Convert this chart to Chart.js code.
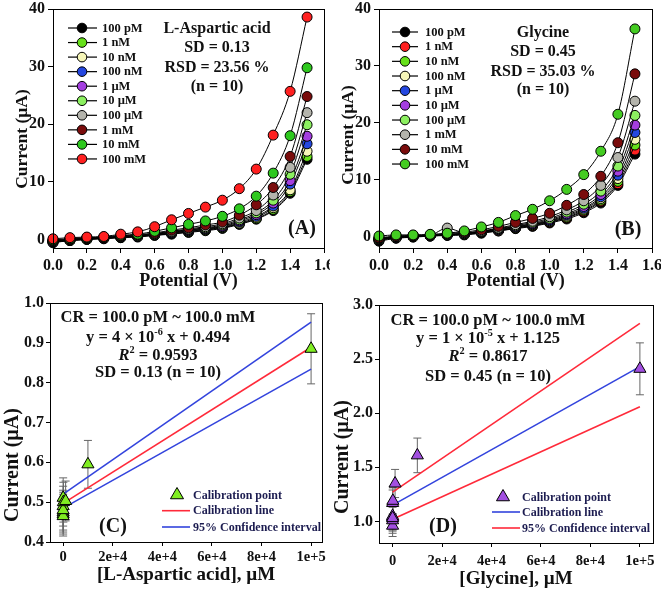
<!DOCTYPE html>
<html><head><meta charset="utf-8">
<script src="https://cdn.jsdelivr.net/npm/chart.js@4/dist/chart.umd.min.js"></script>
<style>
html,body{margin:0;padding:0;background:#fff;width:661px;height:591px;overflow:hidden}
canvas{position:absolute;display:block}
</style></head><body>
<canvas id="cA" width="330" height="295" style="left:0;top:0"></canvas>
<canvas id="cB" width="331" height="295" style="left:330px;top:0"></canvas>
<canvas id="cC" width="330" height="296" style="left:0;top:295px"></canvas>
<canvas id="cD" width="331" height="296" style="left:330px;top:295px"></canvas>
<script>
// ---------------- DATA ----------------
const potentials = [0.0,0.1,0.2,0.3,0.4,0.5,0.6,0.7,0.8,0.9,1.0,1.1,1.2,1.3,1.4,1.5];
const concLabels = ['100 pM','1 nM','10 nM','100 nM','1 \u00b5M','10 \u00b5M','100 \u00b5M','1 mM','10 mM','100 mM'];

// (A) L-Aspartic acid currents (µA)
const asp_100pM = [-0.6,-0.2,0.0,0.1,0.3,0.4,0.7,0.9,1.2,1.5,1.9,2.6,3.5,5.0,8.0,13.9];
const asp_1nM   = [-0.5,-0.2,0.0,0.2,0.3,0.5,0.7,1.0,1.3,1.6,2.0,2.7,3.6,5.2,8.3,14.4];
const asp_10nM  = [-0.4,-0.2,0.0,0.2,0.4,0.5,0.8,1.1,1.4,1.7,2.1,2.8,3.8,5.5,8.6,15.3];
const asp_100nM = [-0.4,-0.1,0.1,0.2,0.4,0.5,0.8,1.1,1.5,1.8,2.2,3.0,4.0,5.8,9.6,16.6];
const asp_1uM   = [-0.4,-0.1,0.1,0.2,0.4,0.6,0.9,1.2,1.6,1.9,2.3,3.2,4.3,6.3,10.2,17.9];
const asp_10uM  = [-0.3,-0.1,0.1,0.3,0.5,0.6,0.9,1.3,1.7,2.0,2.5,3.4,4.6,6.8,11.3,19.9];
const asp_100uM = [-0.3,0.0,0.2,0.3,0.5,0.7,1.0,1.4,1.8,2.2,2.7,3.7,5.0,7.7,12.5,22.0];
const asp_1mM   = [-0.2,0.0,0.2,0.3,0.6,0.8,1.1,1.6,2.0,2.5,3.0,4.2,6.0,9.0,14.4,24.8];
const asp_10mM  = [-0.1,0.1,0.3,0.4,0.7,0.9,1.4,2.0,2.6,3.2,4.0,5.3,7.5,11.5,18.0,29.8];
const asp_100mM = [0.1,0.3,0.4,0.5,0.9,1.3,2.2,3.4,4.5,5.6,6.8,8.8,12.2,18.1,25.7,38.6];

// (B) Glycine currents (µA)
const gly_100pM = [-0.8,-0.3,-0.1,0.1,0.2,0.3,0.6,1.0,1.4,1.8,2.4,3.1,4.2,5.9,9.0,14.5];
const gly_1nM   = [-0.6,-0.2,0.0,0.1,0.3,0.4,0.7,1.0,1.5,1.9,2.5,3.3,4.4,6.2,9.3,15.2];
const gly_10nM  = [-0.6,-0.2,0.0,0.1,0.3,0.4,0.7,1.1,1.5,2.0,2.6,3.4,4.6,6.4,9.7,16.1];
const gly_100nM = [-0.5,-0.2,0.0,0.2,0.3,0.4,0.8,1.1,1.6,2.1,2.7,3.6,4.8,6.7,10.2,17.1];
const gly_1uM   = [-0.5,-0.1,0.1,0.2,0.3,0.5,0.8,1.2,1.7,2.2,2.8,3.8,5.0,7.0,10.8,18.3];
const gly_10uM  = [-0.4,-0.1,0.1,0.2,0.4,0.5,0.9,1.3,1.8,2.3,3.0,4.0,5.3,7.4,11.5,19.6];
const gly_100uM = [-0.4,0.0,0.1,0.2,0.4,0.6,0.9,1.4,1.9,2.5,3.2,4.3,5.7,8.0,12.4,21.3];
const gly_1mM   = [-0.3,0.0,0.2,0.3,1.5,0.7,1.0,1.5,2.1,2.7,3.5,4.7,6.3,9.0,13.9,23.8];
const gly_10mM  = [-0.2,0.1,0.2,0.3,0.5,0.8,1.2,1.8,2.5,3.2,4.1,5.5,7.4,10.6,16.5,28.6];
const gly_100mM = [0.1,0.3,0.3,0.4,0.6,1.0,1.7,2.5,3.7,4.8,6.3,8.3,10.9,15.0,21.5,36.5];

// (C)/(D) calibration
const calConcUM     = [1e-4,1e-3,1e-2,0.1,1,10,100,1000,1e4,1e5];
const aspCalCurrent = [0.49,0.475,0.47,0.465,0.48,0.511,0.50,0.503,0.595,0.885];
const aspCalError   = [0.05,0.05,0.05,0.05,0.05,0.05,0.05,0.05,0.06,0.088];
const glyCalCurrent = [0.96,1.01,1.04,1.05,1.03,1.17,1.19,1.35,1.61,2.41];
const glyCalError   = [0.10,0.12,0.12,0.12,0.12,0.12,0.12,0.13,0.16,0.24];
const lineEndsX     = [0, 1e5];
const aspFitLine    = [0.497, 0.889];
const aspCIUpper    = [0.520, 0.952];
const aspCILower    = [0.485, 0.834];
const glyFitLine    = [1.15, 2.43];
const glyCIUpper    = [1.27, 2.83];
const glyCILower    = [1.02, 2.06];

// ticks
const potentialTicks = [0,0.2,0.4,0.6,0.8,1.0,1.2,1.4,1.6];
const currentTicksAB = [0,10,20,30,40];
const concTicks      = [0,2e4,4e4,6e4,8e4,1e5];
const concTickLabels = ['0','2e+4','4e+4','6e+4','8e+4','1e+5'];
const aspCalTicks    = [0.4,0.5,0.6,0.7,0.8,0.9,1.0];
const glyCalTicks    = [1.0,1.5,2.0,2.5,3.0];

// ---------------- STYLE ----------------
const SERIF = "'Liberation Serif','Times New Roman',serif";
const colorsA = ['#000000','#66e01a','#f6f6b8','#2447e0','#a43ee0','#8cf060','#b4b4ac','#7a0c0c','#2ec81e','#ff2020'];
const colorsB = ['#000000','#ff2020','#66e01a','#f6f6b8','#2447e0','#a43ee0','#8cf060','#b4b4ac','#7a0c0c','#44cc22'];

function pts(xs, ys){ return xs.map((x,i)=>({x:x, y:ys[i]})); }

const framePlugin = {
  id:'frame',
  afterDraw(chart){
    const {ctx, chartArea:a} = chart;
    ctx.save(); ctx.strokeStyle='#000'; ctx.lineWidth=1;
    ctx.strokeRect(Math.round(a.left)+0.5, Math.round(a.top)+0.5, Math.round(a.right-a.left), Math.round(a.bottom-a.top));
    ctx.restore();
  }
};

function drawRich(ctx, segs, cx, cy, size, color){
  const parts = segs.map(s=>{
    const fs = s.sup ? size*0.62 : size;
    const f = (s.italic?'italic ':'') + 'bold ' + fs + 'px ' + SERIF;
    ctx.font = f;
    return {t:s.t, f:f, w:ctx.measureText(s.t).width, sup:s.sup};
  });
  const tot = parts.reduce((a,p)=>a+p.w,0);
  let x = cx - tot/2;
  ctx.fillStyle = color; ctx.textBaseline='middle'; ctx.textAlign='left';
  parts.forEach(p=>{ ctx.font=p.f; ctx.fillText(p.t, x, p.sup ? cy-size*0.35 : cy); x+=p.w; });
}

const textPlugin = {
  id:'texts',
  afterDraw(chart, args, opts){
    const ctx = chart.ctx; ctx.save();
    (opts.items||[]).forEach(it=>drawRich(ctx, it.segs, it.x, it.y, it.size, it.color||'#111'));
    const yt = opts.ytitle;
    if (yt) {
      ctx.translate(yt.x, yt.y); ctx.rotate(-Math.PI/2);
      ctx.font = 'bold ' + yt.size + 'px ' + SERIF; ctx.fillStyle='#111';
      ctx.textAlign='center'; ctx.textBaseline='middle';
      ctx.fillText(yt.text, 0, 0);
    }
    ctx.restore();
  }
};

const curveLegendPlugin = {
  id:'curveLegend',
  afterDraw(chart, args, o){
    if(!o || !o.show) return;
    const ctx = chart.ctx; ctx.save();
    chart.data.datasets.forEach((ds,i)=>{
      const y = o.y0 + i*o.dy;
      ctx.strokeStyle='#000'; ctx.lineWidth=1.2;
      ctx.beginPath(); ctx.moveTo(o.l1,y); ctx.lineTo(o.l2,y); ctx.stroke();
      ctx.beginPath(); ctx.arc(o.mx,y,4.8,0,Math.PI*2);
      ctx.fillStyle=ds.backgroundColor; ctx.fill(); ctx.lineWidth=1; ctx.stroke();
      ctx.fillStyle='#111'; ctx.font='bold 12.5px '+SERIF; ctx.textBaseline='middle'; ctx.textAlign='left';
      ctx.fillText(ds.label, o.tx, y+0.5);
    });
    ctx.restore();
  }
};

const calLegendPlugin = {
  id:'calLegend',
  afterDraw(chart, args, o){
    if(!o || !o.show) return;
    const ctx = chart.ctx; ctx.save();
    const ds = chart.data.datasets;
    const tri = ds[0];
    const r = 7.5, y0 = o.ys[0];
    ctx.beginPath();
    ctx.moveTo(o.mx, y0 - r);
    ctx.lineTo(o.mx + r*0.87, y0 + r*0.5);
    ctx.lineTo(o.mx - r*0.87, y0 + r*0.5);
    ctx.closePath(); ctx.fillStyle=tri.backgroundColor; ctx.fill();
    ctx.strokeStyle='#000'; ctx.lineWidth=1; ctx.stroke();
    ctx.lineWidth=1.6;
    ctx.strokeStyle=ds[1].borderColor; ctx.beginPath(); ctx.moveTo(o.l1,o.ys[1]); ctx.lineTo(o.l2,o.ys[1]); ctx.stroke();
    ctx.strokeStyle=ds[2].borderColor; ctx.beginPath(); ctx.moveTo(o.l1,o.ys[2]); ctx.lineTo(o.l2,o.ys[2]); ctx.stroke();
    ctx.fillStyle='#1c1c50'; ctx.font='bold 12px '+SERIF; ctx.textBaseline='middle'; ctx.textAlign='left';
    ['Calibration point','Calibration line','95% Confidence interval'].forEach((t,i)=>ctx.fillText(t,o.tx,o.ys[i]+0.5));
    ctx.restore();
  }
};

const errorBarPlugin = {
  id:'errbars',
  beforeDatasetsDraw(chart){
    const ds = chart.data.datasets[0];
    if(!ds.errors) return;
    const {ctx, scales:{x,y}} = chart;
    ctx.save(); ctx.strokeStyle='#666'; ctx.lineWidth=1;
    ds.data.forEach((p,i)=>{
      const px = x.getPixelForValue(p.x);
      const y1 = y.getPixelForValue(p.y + ds.errors[i]);
      const y2 = y.getPixelForValue(p.y - ds.errors[i]);
      ctx.beginPath();
      ctx.moveTo(px,y1); ctx.lineTo(px,y2);
      ctx.moveTo(px-4,y1); ctx.lineTo(px+4,y1);
      ctx.moveTo(px-4,y2); ctx.lineTo(px+4,y2);
      ctx.stroke();
    });
    ctx.restore();
  }
};

Chart.register(framePlugin, textPlugin, curveLegendPlugin, calLegendPlugin, errorBarPlugin);

function axis(o){
  return {
    type:'linear', min:o.min, max:o.max,
    afterBuildTicks: s=>{ s.ticks = o.ticks.map(v=>({value:v})); },
    afterFit: s=>{ if(o.width!==undefined) s.width=o.width; if(o.height!==undefined) s.height=o.height;
                   s.paddingLeft=0; s.paddingRight=0; s.paddingTop=0; s.paddingBottom=0; },
    ticks:{ callback:o.fmt, font:{family:SERIF, weight:'bold', size:o.tsize||16}, color:'#111',
            padding:o.tpad||3, maxRotation:0, autoSkip:false },
    grid:{ drawOnChartArea:false, color:'#000', tickLength:o.tl||5, lineWidth:1 },
    border:{ color:'#000', width:1 },
    title:{ display:!!o.title, text:o.title||'', color:'#111',
            font:{family:SERIF, weight:'bold', size:o.fs||18, lineHeight:1}, padding:o.titlePad||0 }
  };
}

function curveChart(id, data, colors, opt){
  const datasets = data.map((arr,i)=>({
    label: concLabels[i], data: pts(potentials, arr),
    borderColor:'#000', borderWidth:1, backgroundColor:colors[i],
    pointRadius:5, pointBorderColor:'#000', pointBorderWidth:1, pointBackgroundColor:colors[i],
    cubicInterpolationMode:'monotone', clip:false, order: 10-i, fill:false
  }));
  new Chart(document.getElementById(id), {
    type:'line', data:{datasets},
    options:{
      responsive:false, animation:false, events:[],
      layout:{padding:opt.pad},
      plugins:{ legend:{display:false}, tooltip:{enabled:false},
        texts:{items:opt.texts, ytitle:opt.ytitle}, curveLegend:Object.assign({show:true}, opt.legend) },
      scales:{
        x: axis({min:0,max:1.6,ticks:potentialTicks,fmt:v=>v.toFixed(1),height:opt.xh,title:'Potential (V)',fs:18,titlePad:{top:0,bottom:opt.xtp}}),
        y: axis({min:opt.ymin,max:40,ticks:currentTicksAB,fmt:v=>String(v),width:opt.yw})
      }
    }
  });
}

function calChart(id, cur, err, fit, up, lo, col, fitCol, ciCol, opt){
  const datasets = [
    { type:'scatter', data:pts(calConcUM,cur), errors:err, pointStyle:'triangle', pointRadius:7,
      backgroundColor:col, pointBackgroundColor:col, pointBorderColor:'#000', pointBorderWidth:1, borderColor:'#000', showLine:false, clip:false, order:0 },
    { type:'line', data:pts(lineEndsX,fit), borderColor:fitCol, borderWidth:1.6, pointRadius:0, order:1 },
    { type:'line', data:pts(lineEndsX,up), borderColor:ciCol, borderWidth:1.6, pointRadius:0, order:2 },
    { type:'line', data:pts(lineEndsX,lo), borderColor:ciCol, borderWidth:1.6, pointRadius:0, order:3 }
  ];
  new Chart(document.getElementById(id), {
    type:'scatter', data:{datasets},
    options:{
      responsive:false, animation:false, events:[],
      layout:{padding:opt.pad},
      plugins:{ legend:{display:false}, tooltip:{enabled:false},
        texts:{items:opt.texts, ytitle:opt.ytitle}, calLegend:Object.assign({show:true}, opt.legend) },
      scales:{
        x: axis({min:opt.xmin,max:opt.xmax,ticks:concTicks,fmt:(v)=>concTickLabels[concTicks.indexOf(v)],height:opt.xh,title:opt.xtitle,fs:19,titlePad:{top:0,bottom:opt.xtp},tsize:14.5,tl:4,tpad:opt.xtpad}),
        y: axis({min:opt.ymin,max:opt.ymax,ticks:opt.yticks,fmt:v=>v.toFixed(1),width:opt.yw,tl:4,tpad:2})
      }
    }
  });
}

const B16 = 16;
curveChart('cA', [asp_100pM,asp_1nM,asp_10nM,asp_100nM,asp_1uM,asp_10uM,asp_100uM,asp_1mM,asp_10mM,asp_100mM], colorsA, {
  pad:{left:0,top:9,right:4,bottom:0}, xh:47, yw:53, ymin:-1.5, xtp:5,
  ytitle:{text:'Current (\u00b5A)', x:22, y:139, size:17.5},
  legend:{l1:68,l2:97,mx:82,tx:102,y0:28,dy:14.55},
  texts:[
    {segs:[{t:'L-Aspartic acid'}],x:217,y:29,size:B16},
    {segs:[{t:'SD = 0.13'}],x:217,y:48,size:B16},
    {segs:[{t:'RSD = 23.56 %'}],x:217,y:68,size:B16},
    {segs:[{t:'(n = 10)'}],x:217,y:87,size:B16},
    {segs:[{t:'(A)'}],x:302,y:229,size:20}
  ]
});
curveChart('cB', [gly_100pM,gly_1nM,gly_10nM,gly_100nM,gly_1uM,gly_10uM,gly_100uM,gly_1mM,gly_10mM,gly_100mM], colorsB, {
  pad:{left:0,top:9,right:9,bottom:0}, xh:47, yw:49, ymin:-2, xtp:5,
  ytitle:{text:'Current (\u00b5A)', x:18, y:135, size:17.5},
  legend:{l1:62,l2:88,mx:75,tx:95,y0:32,dy:14.67},
  texts:[
    {segs:[{t:'Glycine'}],x:213,y:33,size:B16},
    {segs:[{t:'SD = 0.45'}],x:213,y:52,size:B16},
    {segs:[{t:'RSD = 35.03 %'}],x:213,y:72,size:B16},
    {segs:[{t:'(n = 10)'}],x:213,y:90,size:B16},
    {segs:[{t:'(B)'}],x:298,y:230,size:20}
  ]
});
calChart('cC', aspCalCurrent, aspCalError, aspFitLine, aspCIUpper, aspCILower, '#80ee22', '#ff2a3a', '#3344dd', {
  pad:{left:0,top:8,right:5,bottom:0}, xh:49, yw:50, xmin:-5300, xmax:104400, ymin:0.4, ymax:1.0, yticks:aspCalTicks,
  xtitle:'[L-Aspartic acid], \u00b5M', xtp:6, xtpad:3,
  ytitle:{text:'Current (\u00b5A)', x:13, y:170, size:20},
  legend:{l1:162,l2:190,mx:177,tx:193,ys:[200,215.7,232]},
  texts:[
    {segs:[{t:'CR = 100.0 pM ~ 100.0 mM'}],x:158,y:23,size:16.5},
    {segs:[{t:'y = 4 \u00d7 10'},{t:'-6',sup:true},{t:' x + 0.494'}],x:158,y:43,size:16.5},
    {segs:[{t:'R',italic:true},{t:'2',sup:true},{t:' = 0.9593'}],x:158,y:61,size:16.5},
    {segs:[{t:'SD = 0.13 (n = 10)'}],x:158,y:78,size:16.5},
    {segs:[{t:'(C)'}],x:113,y:232,size:20}
  ]
});
calChart('cD', glyCalCurrent, glyCalError, glyFitLine, glyCIUpper, glyCILower, '#a24fe0', '#3344dd', '#ff2a3a', {
  pad:{left:0,top:10,right:6,bottom:0}, xh:48, yw:49, xmin:-5500, xmax:105300, ymin:0.8, ymax:3.0, yticks:glyCalTicks,
  xtitle:'[Glycine], \u00b5M', xtp:2, xtpad:6,
  ytitle:{text:'Current (\u00b5A)', x:13, y:162, size:20},
  legend:{l1:162,l2:190,mx:173,tx:192,ys:[202,217,233]},
  texts:[
    {segs:[{t:'CR = 100.0 pM ~ 100.0 mM'}],x:158,y:26,size:16.5},
    {segs:[{t:'y = 1 \u00d7 10'},{t:'-5',sup:true},{t:' x + 1.125'}],x:158,y:44,size:16.5},
    {segs:[{t:'R',italic:true},{t:'2',sup:true},{t:' = 0.8617'}],x:158,y:62,size:16.5},
    {segs:[{t:'SD = 0.45 (n = 10)'}],x:158,y:82,size:16.5},
    {segs:[{t:'(D)'}],x:113,y:232,size:20}
  ]
});
</script>
</body></html>
